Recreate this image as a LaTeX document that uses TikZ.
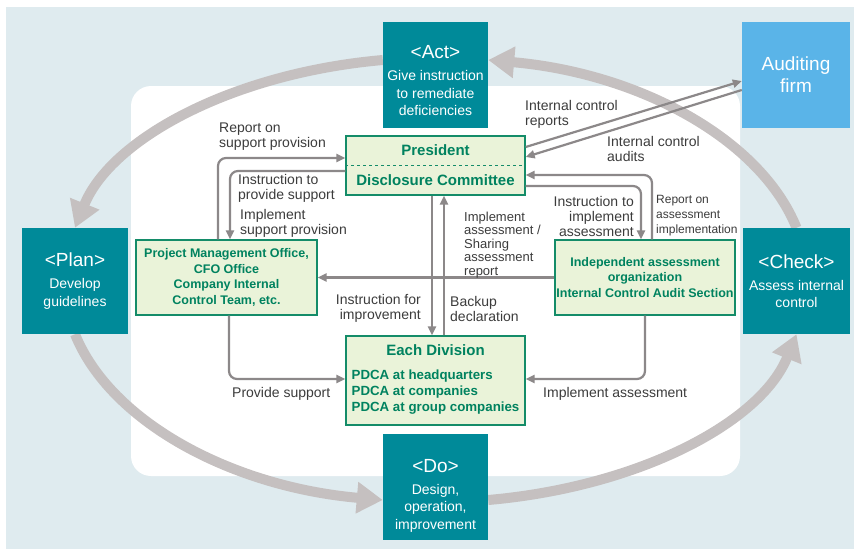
\documentclass[tikz,border=0pt]{standalone}
\usepackage{fontspec}
\setmainfont{Liberation Sans}
\usepackage{xcolor}
\usetikzlibrary{arrows.meta,backgrounds}
\definecolor{pagebg}{RGB}{223,235,239}
\definecolor{pdcateal}{RGB}{0,138,153}
\definecolor{firmblue}{RGB}{90,180,232}
\definecolor{loopgray}{RGB}{197,192,192}
\definecolor{linkgray}{RGB}{140,136,137}
\definecolor{orgfill}{RGB}{234,243,217}
\definecolor{orgedge}{RGB}{20,140,105}
\definecolor{orgtext}{RGB}{0,130,95}
\definecolor{notegray}{RGB}{60,60,60}
\newcommand{\phasetitle}[1]{{\fontsize{19}{22}\selectfont #1}}

\begin{document}
\begin{tikzpicture}[x=1pt,y=-1pt,
  phasebox/.style={fill=pdcateal,text=white,minimum width=105pt,minimum height=106pt,inner sep=0pt,align=center,font=\fontsize{14}{17.5}\selectfont},
  orgbox/.style={draw=orgedge,line width=1.3pt,fill=orgfill,text=orgtext,inner sep=0pt,align=center,font=\bfseries\fontsize{12.5}{15.5}\selectfont},
  looparrow/.style={draw=loopgray,line width=10pt,-{Triangle[length=26pt,width=30pt]}},
  linkarrow/.style={draw=linkgray,line width=2.2pt,rounded corners=8pt,-{Triangle[length=9pt,width=8pt]}},
  linktext/.style={text=notegray,inner sep=0pt,font=\fontsize{14}{15}\selectfont}]
\useasboundingbox (0,0) rectangle (854,549);

% PDCA phases and auditor
\node[phasebox] (act) at (435.5,75) {\rule{0pt}{25pt}\phasetitle{<Act>}\\[4.5pt]Give instruction\\to remediate\\deficiencies};
\node[phasebox,minimum width=106pt] (plan) at (75,281) {\phasetitle{<Plan>}\\[4.5pt]Develop\\guidelines};
\node[phasebox,minimum width=107pt] (check) at (796.5,281) {\phasetitle{<Check>}\\[4.5pt]Assess internal\\control};
\node[phasebox] (do) at (435.5,487) {\rule{0pt}{30pt}\phasetitle{<Do>}\\[4.5pt]Design,\\operation,\\improvement};
\node[phasebox,fill=firmblue,minimum width=108pt,font=\fontsize{19}{22}\selectfont] (firm) at (796,75) {Auditing\\firm};

% organisation
\node[orgbox,minimum width=179pt,minimum height=59pt,font=\bfseries\fontsize{15}{18}\selectfont] (pres) at (435.5,165.5) {President\\[12pt]Disclosure Committee};
\draw[orgedge,line width=1.2pt,dash pattern=on 3pt off 3pt] (pres.west) -- (pres.east);
\node[orgbox,minimum width=181pt,minimum height=75pt] (pmo) at (226.5,277.5) {Project Management Office,\\CFO Office\\Company Internal\\Control Team, etc.};
\node[orgbox,minimum width=180pt,minimum height=75pt] (indep) at (645,277.5) {Independent assessment\\organization\\Internal Control Audit Section};
\node[orgbox,minimum width=179pt,minimum height=89pt,font=\bfseries\fontsize{13.3}{16}\selectfont] (div) at (435.5,380.5)
  {\begin{tabular}{@{}l@{}}\multicolumn{1}{@{}c@{}}{\fontsize{15}{18}\selectfont Each Division}\\[8pt]PDCA at headquarters\\PDCA at companies\\PDCA at group companies\end{tabular}};

\begin{pgfonlayer}{background}
\fill[pagebg] (6,7) rectangle (854,549);
\fill[white,rounded corners=20pt] (131,86) rectangle (740,476);
\draw[looparrow] ([yshift=15pt]act.west) to[out=185,in=68,out looseness=1.1,in looseness=0.7] (plan.north);
\draw[looparrow] (plan.south) to[out=292,in=175,out looseness=0.7,in looseness=1.1] ([yshift=-13pt]do.west);
\draw[looparrow] ([yshift=-13pt]do.east) to[out=5,in=248,out looseness=1.1,in looseness=0.7] (check.south);
\draw[looparrow] (check.north) to[out=112,in=355,out looseness=0.7,in looseness=1.1] ([yshift=15pt]act.east);
\end{pgfonlayer}

% flows
\draw[linkarrow] ([xshift=-8.5pt]pmo.north) |- ([yshift=7.5pt]pres.west);
\draw[linkarrow] ([yshift=-5.5pt]pres.west) -| ([xshift=3.5pt]pmo.north);
\draw[linkarrow] ([yshift=-20.5pt]pres.east) -| ([xshift=-4pt]indep.north);
\draw[linkarrow] ([xshift=7pt]indep.north) |- ([yshift=-9.5pt]pres.east);
\draw[linkarrow] ([yshift=18.5pt]pres.east) -- ([yshift=-6pt]firm.west);
\draw[linkarrow] ([yshift=-15pt]firm.west) -- ([yshift=8.5pt]pres.east);
\draw[linkarrow] (indep.west) -- (pmo.east);
\draw[linkarrow] ([xshift=-3.5pt]pres.south) -- ([xshift=-3.5pt]div.north);
\draw[linkarrow] ([xshift=8.5pt]div.north) -- ([xshift=8.5pt]pres.south);
\draw[linkarrow] ([xshift=2.5pt]pmo.south) |- ([yshift=1.5pt]div.west);
\draw[linkarrow] (indep.south) |- ([yshift=1.5pt]div.east);

\node[linktext,anchor=west,align=left] (rspnote) at (219,137) {Report on\\support provision};
\node[linktext,anchor=west,align=left] (ipsnote) at (238,188) {Instruction to\\provide support};
\node[linktext,anchor=west,align=left] (ispnote) at (240,223.5) {Implement\\support provision};
\node[linktext,anchor=east,align=right] (iianote) at (634,216) {Instruction to\\implement\\assessment};
\node[linktext,anchor=west,align=left,font=\fontsize{12}{15}\selectfont] (rainote) at (656,216) {Report on\\assessment\\implementation};
\node[linktext,anchor=west,align=left] (icrnote) at (525,114.5) {Internal control\\reports};
\node[linktext,anchor=west,align=left] (icanote) at (607,148.5) {Internal control\\audits};
\node[linktext,anchor=west,align=left,font=\fontsize{13}{13.5}\selectfont] (sarnote) at (464,245) {Implement\\assessment /\\Sharing\\assessment\\report};
\node[linktext,anchor=east,align=right] (ifinote) at (421,308.5) {Instruction for\\improvement};
\node[linktext,anchor=west,align=left] (bdnote) at (450,308.5) {Backup\\declaration};
\node[linktext,anchor=west] (psnote) at (232,394) {Provide support};
\node[linktext,anchor=west] (ianote) at (543,394) {Implement assessment};
\end{tikzpicture}
\end{document}
